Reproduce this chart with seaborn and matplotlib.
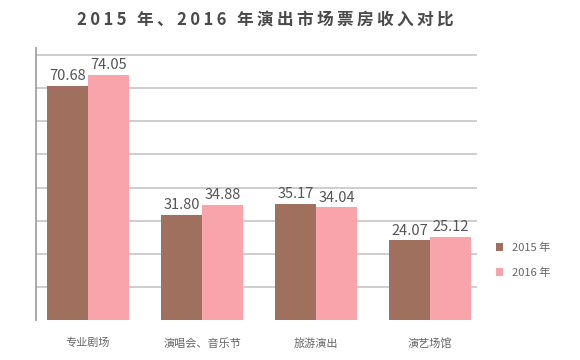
import matplotlib
matplotlib.use("Agg")
import matplotlib.pyplot as plt
import seaborn as sns
import pandas as pd

categories = ["专业剧场", "演唱会、音乐节", "旅游演出", "演艺场馆"]
years = ["2015 年", "2016 年"]
values_2015 = [70.68, 31.80, 35.17, 24.07]
values_2016 = [74.05, 34.88, 34.04, 25.12]
colors = ["#A0705E", "#F9A4AA"]

df = pd.DataFrame({
    "cat": categories * 2,
    "year": [years[0]] * 4 + [years[1]] * 4,
    "val": values_2015 + values_2016,
})

sns.set_theme(style="white")
plt.rcParams["font.family"] = ["Noto Sans CJK SC", "DejaVu Sans"]

fig = plt.figure(figsize=(5.8, 3.6), dpi=100)
ax = fig.add_axes([0.062, 0.111, 0.760, 0.756])

sns.barplot(data=df, x="cat", y="val", hue="year", palette=colors,
            width=0.72, saturation=1, ax=ax, zorder=3, legend=True,
            linewidth=0, edgecolor="none")

ax.set_ylim(0, 82.2)
ax.set_xlim(-0.457, 3.41)
ax.set_yticks(range(10, 90, 10))
ax.yaxis.grid(True, color="#c6c6c6", linewidth=1.2, zorder=0)
ax.set_axisbelow(True)
ax.set_yticklabels([])
ax.tick_params(axis="y", length=0)
ax.tick_params(axis="x", length=0, pad=13, labelsize=8, labelcolor="#666666")
ax.set_xlabel("")
ax.set_ylabel("")
for s in ["top", "right", "bottom"]:
    ax.spines[s].set_visible(False)
ax.spines["left"].set_color("#999999")
ax.spines["left"].set_linewidth(1.2)

for cont in ax.containers:
    ax.bar_label(cont, fmt="%.2f", padding=2, fontsize=10.5, color="#555555")

leg = ax.legend(loc="center left", bbox_to_anchor=(1.02, 0.22), frameon=False,
                fontsize=8, handlelength=0.7, handleheight=0.7, labelspacing=1.3,
                handletextpad=0.8)
for t in leg.get_texts():
    t.set_color("#666666")

title = "2015 年、2016 年演出市场票房收入对比"
fig.text(0.458, 0.945, "\u2009".join(title), ha="center", va="center",
         fontsize=12, fontweight="bold", color="#4a4a4a",
         family=["Noto Sans CJK SC", "DejaVu Sans"])

fig.savefig("out.png", dpi=100)
